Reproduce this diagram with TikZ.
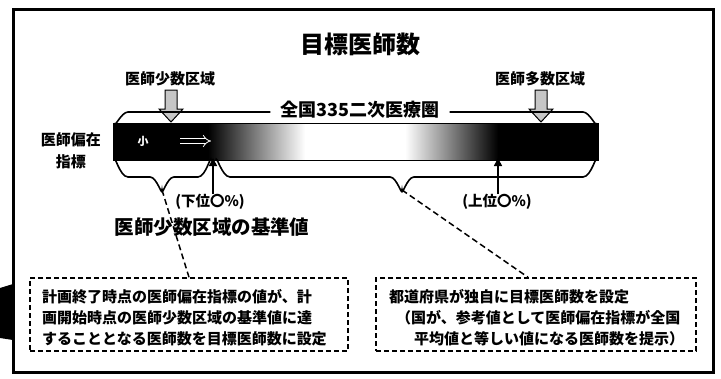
\documentclass[tikz,border=0pt]{standalone}
\usepackage{fontspec}
\setmainfont{Noto Sans CJK JP}
\usetikzlibrary{arrows.meta}
\begin{document}
\begin{tikzpicture}[x=1pt,y=-1pt,
  lbl/.style={inner sep=0pt,font=\bfseries\fontsize{15}{17}\selectfont},
  boxtxt/.style={inner sep=0pt,anchor=west,font=\bfseries\fontsize{15}{17}\selectfont},
  dbox/.style={draw,dash pattern=on 5pt off 3pt,line width=1.5pt,minimum width=318pt,minimum height=73pt,inner sep=0pt},
  conn/.style={dash pattern=on 6pt off 3.5pt,line width=1.5pt},
  bracepath/.style={line width=1.6pt},
  hatch/.style={draw=black,fill=gray!45,line width=1pt},
  uparrow/.style={line width=1.5pt,-{Triangle[length=8pt,width=8pt]}}]
\useasboundingbox (0,0) rectangle (721,378);
% frame
\draw[line width=3pt] (13,9) rectangle (713,372);
\fill (0,288) -- (13,284) -- (13,340) -- (0,338) -- cycle;
% title
\node[inner sep=0pt,font=\bfseries\fontsize{24}{26}\selectfont] (title) at (360,44) {目標医師数};
% labels above
\node[lbl] (few) at (170,79) {医師少数区域};
\node[lbl] (many) at (540,79) {医師多数区域};
% hatched arrows
\draw[hatch] (165,90) -- (177,90) -- (177,109) -- (183,109) -- (171,122) -- (159,109) -- (165,109) -- cycle;
\draw[hatch] (535,90) -- (547,90) -- (547,109) -- (553,109) -- (541,122) -- (529,109) -- (535,109) -- cycle;
% national label and top bracket
\node[inner sep=0pt,font=\bfseries\fontsize{18}{20}\selectfont] (nat) at (360,110) {全国335二次医療圏};
\draw[bracepath] (nat.west) ++(-10,2) coordinate (tl) -- (128,112) to[out=180,in=-90] (114,123);
\draw[bracepath] (nat.east) ++(10,2) coordinate (tr) -- (583,112) to[out=0,in=-90] (597,123);
% bar
\fill (113,123) rectangle (208,160);
\shade[left color=black,right color=white] (208,123) rectangle (305,160);
\fill[white] (305,123) rectangle (405,160);
\shade[left color=white,right color=black] (405,123) rectangle (498,160);
\fill (498,123) rectangle (598,160);
\draw[line width=1pt] (113,123) rectangle (598,160);
\node[inner sep=0pt,text=white,font=\bfseries\fontsize{11}{12}\selectfont] (small) at (143,141) {小};
\draw[white,line width=0.8pt,double=black,double distance=3.5pt,-{Implies}] (180,141) -- (211,141);
% left label
\node[inner sep=0pt,align=center,font=\bfseries\fontsize{15}{22}\selectfont] (idx) at (71,151) {医師偏在\\指標};
% bottom braces
\coordinate (cl) at (162,190);
\coordinate (cr) at (402,190);
\draw[bracepath] (114,160) to[out=90,in=180] (128,177) -- (150,177) to[out=0,in=-90] (cl) to[out=-90,in=180] (174,177) -- (198,177) to[out=0,in=90] (211,161);
\draw[bracepath] (216,161) to[out=90,in=180] (230,177) -- (390,177) to[out=0,in=-90] (cr) to[out=-90,in=180] (414,177) -- (583,177) to[out=0,in=90] (597,160);
% up arrows and labels
\node[lbl,font=\bfseries\fontsize{14.5}{16}\selectfont] (lo) at (210,202) {(下位〇\%)};
\node[lbl,font=\bfseries\fontsize{14.5}{16}\selectfont] (hi) at (497,202) {(上位〇\%)};
\coordinate (blo) at (213,158);
\coordinate (bhi) at (498,158);
\draw[uparrow] ([xshift=3pt]lo.north) -- (blo);
\draw[uparrow] ([xshift=1pt]hi.north) -- (bhi);
% base value
\node[inner sep=0pt,font=\bfseries\fontsize{19.5}{21}\selectfont] (base) at (212,227) {医師少数区域の基準値};
% boxes
\node[dbox] (lbox) at (189,314.5) {};
\node[dbox,minimum width=320pt] (rbox) at (536,314.5) {};
\node[boxtxt] (l1) at (42,297) {計画終了時点の医師偏在指標の値が、計};
\node[boxtxt] (l2) at (42,318) {画開始時点の医師少数区域の基準値に達};
\node[boxtxt] (l3) at (42,339) {することとなる医師数を目標医師数に設定};
\node[boxtxt] (r1) at (389,297) {都道府県が独自に目標医師数を設定};
\node[boxtxt] (r2) at (396,318) {（国が、参考値として医師偏在指標が全国};
\node[boxtxt] (r3) at (414,339) {平均値と等しい値になる医師数を提示）};
% dashed connectors
\draw[conn] (cl) -- (lbox.north);
\draw[conn] (cr) -- ([xshift=-8pt]rbox.north);
\end{tikzpicture}
\end{document}
